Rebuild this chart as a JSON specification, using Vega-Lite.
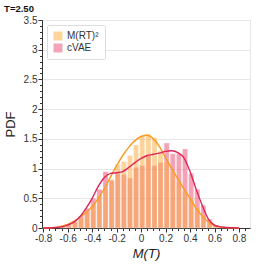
{
  "$schema": "https://vega.github.io/schema/vega-lite/v6.json",
  "width": 208,
  "height": 208,
  "autosize": {"type": "none"},
  "padding": {"left": 42, "top": 20, "right": 16, "bottom": 38},
  "title": {"text": "T=2.50", "anchor": "start", "fontSize": 9.5, "fontWeight": "bold", "font": "Liberation Sans", "color": "#111", "offset": 2},
  "config": {
    "font": "Liberation Sans",
    "view": {"stroke": "#e6e6e6"},
    "axis": {"labelFontSize": 10, "labelColor": "#333", "titleColor": "#222", "titleFontWeight": "normal", "domainColor": "#333", "tickColor": "#333", "gridColor": "#e6e6e6"},
    "legend": {"orient": "top-left", "offset": 5, "fillColor": "white", "strokeColor": "#dddddd", "padding": 6, "symbolType": "square", "symbolSize": 80, "symbolStrokeWidth": 0, "labelFontSize": 10, "labelColor": "#333", "rowPadding": 2, "cornerRadius": 1}
  },
  "datasets": {
    "hist": [
      {"series": "cVAE", "x0": -0.67, "x1": -0.62, "y": 0.03},
      {"series": "cVAE", "x0": -0.62, "x1": -0.57, "y": 0.06},
      {"series": "cVAE", "x0": -0.57, "x1": -0.52, "y": 0.12},
      {"series": "cVAE", "x0": -0.52, "x1": -0.47, "y": 0.2},
      {"series": "cVAE", "x0": -0.47, "x1": -0.42, "y": 0.33},
      {"series": "cVAE", "x0": -0.42, "x1": -0.37, "y": 0.5},
      {"series": "cVAE", "x0": -0.37, "x1": -0.32, "y": 0.65},
      {"series": "cVAE", "x0": -0.32, "x1": -0.27, "y": 0.95},
      {"series": "cVAE", "x0": -0.27, "x1": -0.22, "y": 0.8},
      {"series": "cVAE", "x0": -0.22, "x1": -0.17, "y": 0.92},
      {"series": "cVAE", "x0": -0.17, "x1": -0.12, "y": 0.9},
      {"series": "cVAE", "x0": -0.12, "x1": -0.07, "y": 0.84},
      {"series": "cVAE", "x0": -0.07, "x1": -0.02, "y": 1.02},
      {"series": "cVAE", "x0": -0.02, "x1": 0.03, "y": 1.05},
      {"series": "cVAE", "x0": 0.03, "x1": 0.08, "y": 1.22},
      {"series": "cVAE", "x0": 0.08, "x1": 0.13, "y": 1.05},
      {"series": "cVAE", "x0": 0.13, "x1": 0.18, "y": 1.1},
      {"series": "cVAE", "x0": 0.18, "x1": 0.23, "y": 1.43},
      {"series": "cVAE", "x0": 0.23, "x1": 0.28, "y": 1.25},
      {"series": "cVAE", "x0": 0.28, "x1": 0.33, "y": 1.25},
      {"series": "cVAE", "x0": 0.33, "x1": 0.38, "y": 1.33},
      {"series": "cVAE", "x0": 0.38, "x1": 0.43, "y": 0.92},
      {"series": "cVAE", "x0": 0.43, "x1": 0.48, "y": 0.65},
      {"series": "cVAE", "x0": 0.48, "x1": 0.53, "y": 0.38},
      {"series": "cVAE", "x0": 0.53, "x1": 0.58, "y": 0.15},
      {"series": "cVAE", "x0": 0.58, "x1": 0.63, "y": 0.05},
      {"series": "cVAE", "x0": 0.63, "x1": 0.68, "y": 0.02},
      {"series": "M(RT)²", "x0": -0.67, "x1": -0.62, "y": 0.02},
      {"series": "M(RT)²", "x0": -0.62, "x1": -0.57, "y": 0.05},
      {"series": "M(RT)²", "x0": -0.57, "x1": -0.52, "y": 0.1},
      {"series": "M(RT)²", "x0": -0.52, "x1": -0.47, "y": 0.17},
      {"series": "M(RT)²", "x0": -0.47, "x1": -0.42, "y": 0.27},
      {"series": "M(RT)²", "x0": -0.42, "x1": -0.37, "y": 0.4},
      {"series": "M(RT)²", "x0": -0.37, "x1": -0.32, "y": 0.55},
      {"series": "M(RT)²", "x0": -0.32, "x1": -0.27, "y": 0.68},
      {"series": "M(RT)²", "x0": -0.27, "x1": -0.22, "y": 0.82},
      {"series": "M(RT)²", "x0": -0.22, "x1": -0.17, "y": 1.07},
      {"series": "M(RT)²", "x0": -0.17, "x1": -0.12, "y": 1.12},
      {"series": "M(RT)²", "x0": -0.12, "x1": -0.07, "y": 1.22},
      {"series": "M(RT)²", "x0": -0.07, "x1": -0.02, "y": 1.4},
      {"series": "M(RT)²", "x0": -0.02, "x1": 0.03, "y": 1.55},
      {"series": "M(RT)²", "x0": 0.03, "x1": 0.08, "y": 1.58},
      {"series": "M(RT)²", "x0": 0.08, "x1": 0.13, "y": 1.52},
      {"series": "M(RT)²", "x0": 0.13, "x1": 0.18, "y": 1.3},
      {"series": "M(RT)²", "x0": 0.18, "x1": 0.23, "y": 1.12},
      {"series": "M(RT)²", "x0": 0.23, "x1": 0.28, "y": 0.95},
      {"series": "M(RT)²", "x0": 0.28, "x1": 0.33, "y": 0.78},
      {"series": "M(RT)²", "x0": 0.33, "x1": 0.38, "y": 0.62},
      {"series": "M(RT)²", "x0": 0.38, "x1": 0.43, "y": 0.5},
      {"series": "M(RT)²", "x0": 0.43, "x1": 0.48, "y": 0.35},
      {"series": "M(RT)²", "x0": 0.48, "x1": 0.53, "y": 0.22},
      {"series": "M(RT)²", "x0": 0.53, "x1": 0.58, "y": 0.12},
      {"series": "M(RT)²", "x0": 0.58, "x1": 0.63, "y": 0.05},
      {"series": "M(RT)²", "x0": 0.63, "x1": 0.68, "y": 0.02}
    ],
    "kde": [
      {"series": "M(RT)²", "x": -0.8, "y": 0.0},
      {"series": "M(RT)²", "x": -0.75, "y": 0.003},
      {"series": "M(RT)²", "x": -0.7, "y": 0.01},
      {"series": "M(RT)²", "x": -0.65, "y": 0.03},
      {"series": "M(RT)²", "x": -0.6, "y": 0.06},
      {"series": "M(RT)²", "x": -0.55, "y": 0.11},
      {"series": "M(RT)²", "x": -0.5, "y": 0.18},
      {"series": "M(RT)²", "x": -0.45, "y": 0.26},
      {"series": "M(RT)²", "x": -0.4, "y": 0.36},
      {"series": "M(RT)²", "x": -0.35, "y": 0.5},
      {"series": "M(RT)²", "x": -0.3, "y": 0.66},
      {"series": "M(RT)²", "x": -0.25, "y": 0.86},
      {"series": "M(RT)²", "x": -0.2, "y": 1.05},
      {"series": "M(RT)²", "x": -0.15, "y": 1.22},
      {"series": "M(RT)²", "x": -0.1, "y": 1.36},
      {"series": "M(RT)²", "x": -0.05, "y": 1.47},
      {"series": "M(RT)²", "x": 0.0, "y": 1.54},
      {"series": "M(RT)²", "x": 0.05, "y": 1.56},
      {"series": "M(RT)²", "x": 0.1, "y": 1.5},
      {"series": "M(RT)²", "x": 0.15, "y": 1.37},
      {"series": "M(RT)²", "x": 0.2, "y": 1.18},
      {"series": "M(RT)²", "x": 0.25, "y": 1.0},
      {"series": "M(RT)²", "x": 0.3, "y": 0.83},
      {"series": "M(RT)²", "x": 0.35, "y": 0.66},
      {"series": "M(RT)²", "x": 0.4, "y": 0.5},
      {"series": "M(RT)²", "x": 0.45, "y": 0.33},
      {"series": "M(RT)²", "x": 0.5, "y": 0.2},
      {"series": "M(RT)²", "x": 0.55, "y": 0.1},
      {"series": "M(RT)²", "x": 0.6, "y": 0.04},
      {"series": "M(RT)²", "x": 0.65, "y": 0.015},
      {"series": "M(RT)²", "x": 0.7, "y": 0.005},
      {"series": "M(RT)²", "x": 0.75, "y": 0.002},
      {"series": "M(RT)²", "x": 0.8, "y": 0.0},
      {"series": "cVAE", "x": -0.8, "y": 0.0},
      {"series": "cVAE", "x": -0.75, "y": 0.002},
      {"series": "cVAE", "x": -0.7, "y": 0.008},
      {"series": "cVAE", "x": -0.65, "y": 0.02},
      {"series": "cVAE", "x": -0.6, "y": 0.05},
      {"series": "cVAE", "x": -0.55, "y": 0.1},
      {"series": "cVAE", "x": -0.5, "y": 0.19},
      {"series": "cVAE", "x": -0.45, "y": 0.33},
      {"series": "cVAE", "x": -0.4, "y": 0.5},
      {"series": "cVAE", "x": -0.35, "y": 0.7},
      {"series": "cVAE", "x": -0.3, "y": 0.85},
      {"series": "cVAE", "x": -0.25, "y": 0.92},
      {"series": "cVAE", "x": -0.2, "y": 0.93},
      {"series": "cVAE", "x": -0.15, "y": 0.95},
      {"series": "cVAE", "x": -0.1, "y": 1.02},
      {"series": "cVAE", "x": -0.05, "y": 1.1},
      {"series": "cVAE", "x": 0.0, "y": 1.17},
      {"series": "cVAE", "x": 0.05, "y": 1.22},
      {"series": "cVAE", "x": 0.1, "y": 1.24},
      {"series": "cVAE", "x": 0.15, "y": 1.26},
      {"series": "cVAE", "x": 0.2, "y": 1.29},
      {"series": "cVAE", "x": 0.25, "y": 1.3},
      {"series": "cVAE", "x": 0.3, "y": 1.27},
      {"series": "cVAE", "x": 0.35, "y": 1.18},
      {"series": "cVAE", "x": 0.4, "y": 0.95},
      {"series": "cVAE", "x": 0.45, "y": 0.65},
      {"series": "cVAE", "x": 0.5, "y": 0.38},
      {"series": "cVAE", "x": 0.55, "y": 0.15},
      {"series": "cVAE", "x": 0.6, "y": 0.05},
      {"series": "cVAE", "x": 0.65, "y": 0.02},
      {"series": "cVAE", "x": 0.7, "y": 0.008},
      {"series": "cVAE", "x": 0.75, "y": 0.004},
      {"series": "cVAE", "x": 0.8, "y": 0.002}
    ]
  },
  "layer": [
    {
      "data": {"name": "hist"},
      "mark": {"type": "bar", "opacity": 0.5, "stroke": "white", "strokeWidth": 0.3},
      "encoding": {
        "x": {"field": "x0", "type": "quantitative", "bin": "binned",
              "scale": {"domain": [-0.81, 0.89], "nice": false, "zero": false},
              "axis": {"orient": "bottom", "values": [-0.8, -0.6, -0.4, -0.2, 0, 0.2, 0.4, 0.6, 0.8], "format": "~g", "labelExpr": "replace(datum.label, '\u2212', '-')", "title": "M(T)", "titleFontStyle": "italic", "titleFontSize": 13, "titlePadding": 4, "tickSize": 4, "labelPadding": 1}},
        "x2": {"field": "x1"},
        "y": {"field": "y", "type": "quantitative", "stack": null,
              "scale": {"domain": [0, 3.5], "nice": false},
              "axis": {"orient": "left", "values": [0, 0.5, 1, 1.5, 2, 2.5, 3, 3.5], "format": "~g", "title": "PDF", "titleFontSize": 13, "titlePadding": 6, "tickSize": 4, "labelPadding": 1}},
        "color": {"field": "series", "type": "nominal",
                  "scale": {"domain": ["M(RT)²", "cVAE"], "range": ["#fba93a", "#e84a6d"]},
                  "legend": {"title": null}}
      }
    },
    {
      "data": {"name": "kde"},
      "mark": {"type": "line", "strokeWidth": 1.4, "interpolate": "monotone"},
      "encoding": {
        "x": {"field": "x", "type": "quantitative",
              "axis": {"orient": "bottom", "values": [-0.75, -0.7, -0.65, -0.55, -0.5, -0.45, -0.35, -0.3, -0.25, -0.15, -0.1, -0.05, 0.05, 0.1, 0.15, 0.25, 0.3, 0.35, 0.45, 0.5, 0.55, 0.65, 0.7, 0.75, 0.85], "labels": false, "grid": false, "domain": false, "tickSize": 2.5, "title": null}},
        "y": {"field": "y", "type": "quantitative",
              "axis": {"orient": "left", "values": [0.1, 0.2, 0.3, 0.4, 0.6, 0.7, 0.8, 0.9, 1.1, 1.2, 1.3, 1.4, 1.6, 1.7, 1.8, 1.9, 2.1, 2.2, 2.3, 2.4, 2.6, 2.7, 2.8, 2.9, 3.1, 3.2, 3.3, 3.4], "labels": false, "grid": false, "domain": false, "tickSize": 2.5, "title": null}},
        "stroke": {"field": "series", "type": "nominal",
                   "scale": {"domain": ["M(RT)²", "cVAE"], "range": ["#fb9a1e", "#e0245a"]},
                   "legend": null}
      }
    }
  ],
  "resolve": {"axis": {"x": "independent", "y": "independent"}}
}
